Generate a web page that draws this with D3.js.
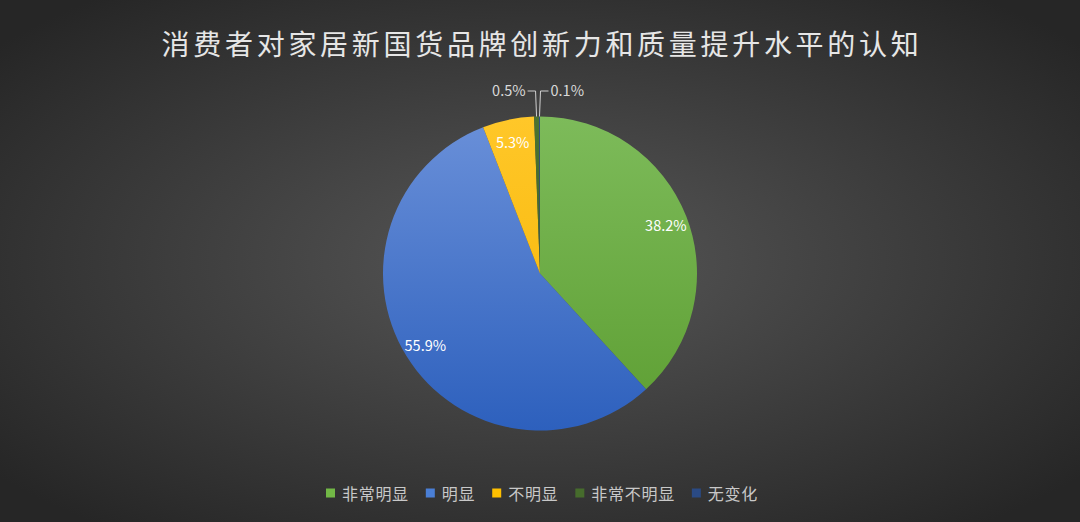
<!DOCTYPE html>
<html>
<head>
<meta charset="utf-8">
<script src="https://cdn.jsdelivr.net/npm/d3@7/dist/d3.min.js"></script>
<style>
  html, body { margin: 0; padding: 0; background: #262626; }
  svg { display: block; }
  text { font-family: "Noto Sans CJK SC", "Noto Sans", sans-serif; }
</style>
</head>
<body>
<div id="chart"></div>
<script>
//======
// Data
//======
const title = "消费者对家居新国货品牌创新力和质量提升水平的认知";
const categories = ["非常明显", "明显", "不明显", "非常不明显", "无变化"];
const values = [38.2, 55.9, 5.3, 0.5, 0.1];

// top / bottom colours of each slice gradient
const colorTop = ["#7dbb5a", "#6a90d9", "#ffc729", "#4b7330", "#2e4f8a"];
const colorBottom = ["#5d9e32", "#2d60bd", "#f5b400", "#3b5e24", "#22407a"];
const legendColor = ["#72b846", "#4a7fd6", "#ffc000", "#466c2c", "#2a4a84"];

//=======
// Chart
//=======
var width = 1080, height = 522;
var cx = 540, cy = 273.5, radius = 157;

var svg = d3.select("#chart").append("svg")
  .attr("width", width)
  .attr("height", height);

var defs = svg.append("defs");

var bg = defs.append("radialGradient")
  .attr("id", "bg")
  .attr("cx", "50%").attr("cy", "50%").attr("r", "65%");
bg.append("stop").attr("offset", "0%").attr("stop-color", "#575757");
bg.append("stop").attr("offset", "100%").attr("stop-color", "#262626");

svg.append("rect")
  .attr("width", width)
  .attr("height", height)
  .attr("fill", "url(#bg)");

// slice gradients, in the pie group's coordinates
categories.forEach(function(c, i) {
  var g = defs.append("linearGradient")
    .attr("id", "slice" + i)
    .attr("gradientUnits", "userSpaceOnUse")
    .attr("x1", 0).attr("y1", -radius)
    .attr("x2", 0).attr("y2", radius);
  g.append("stop").attr("offset", "0%").attr("stop-color", colorTop[i]);
  g.append("stop").attr("offset", "100%").attr("stop-color", colorBottom[i]);
});

// title
svg.append("text")
  .attr("x", cx + 2)
  .attr("y", 43)
  .attr("text-anchor", "middle")
  .attr("dominant-baseline", "central")
  .attr("fill", "#e6e6e6")
  .style("font-size", "28px")
  .style("letter-spacing", "3.7px")
  .text(title);

// pie
var layout = d3.pie().sort(null).value(d => d)(values);
var arcGen = d3.arc().innerRadius(0).outerRadius(radius);
var labelArc = d3.arc().innerRadius(radius * 0.86).outerRadius(radius * 0.86);

var pieG = svg.append("g")
  .attr("transform", `translate(${cx},${cy})`);

pieG.selectAll("path")
  .data(layout)
  .enter()
  .append("path")
  .attr("d", arcGen)
  .attr("fill", (d, i) => `url(#slice${i})`);

// labels inside
pieG.selectAll("text.inner")
  .data(layout.filter(d => d.data >= 1))
  .enter()
  .append("text")
  .attr("class", "inner")
  .attr("x", d => labelArc.centroid(d)[0])
  .attr("y", d => labelArc.centroid(d)[1])
  .attr("text-anchor", "middle")
  .attr("dominant-baseline", "central")
  .attr("fill", "#ffffff")
  .style("font-size", "14.5px")
  .text(d => d.data.toFixed(1) + "%");

// small slices: leader lines + labels above the pie
var small = layout.filter(d => d.data < 1);
var lineY = 91 - cy;
small.forEach(function(d, k) {
  var mid = (d.startAngle + d.endAngle) / 2;
  var px = radius * Math.sin(mid), py = -radius * Math.cos(mid);
  var dir = k === 0 ? -1 : 1;
  pieG.append("path")
    .attr("d", `M${px},${py}L${px + dir},${lineY}L${px + dir * 9},${lineY}`)
    .attr("fill", "none")
    .attr("stroke", "#d0d0d0")
    .attr("stroke-width", 1);
  pieG.append("text")
    .attr("x", px + dir * 11)
    .attr("y", lineY - 2)
    .attr("text-anchor", dir < 0 ? "end" : "start")
    .attr("dominant-baseline", "central")
    .attr("fill", "#d9d9d9")
    .style("font-size", "14.5px")
    .text(d.data.toFixed(1) + "%");
});

// legend
var legend = svg.append("g");
var lx = 326, ly = 493;
categories.forEach(function(c, i) {
  legend.append("rect")
    .attr("x", lx)
    .attr("y", ly - 4.5)
    .attr("width", 9)
    .attr("height", 9)
    .attr("fill", legendColor[i]);
  var t = legend.append("text")
    .attr("x", lx + 16)
    .attr("y", ly)
    .attr("dominant-baseline", "central")
    .attr("fill", "#c8c8c8")
    .style("font-size", "16px")
    .style("letter-spacing", "0.7px")
    .text(c);
  lx += 16 + t.node().getComputedTextLength() + 17;
});
</script>
</body>
</html>
